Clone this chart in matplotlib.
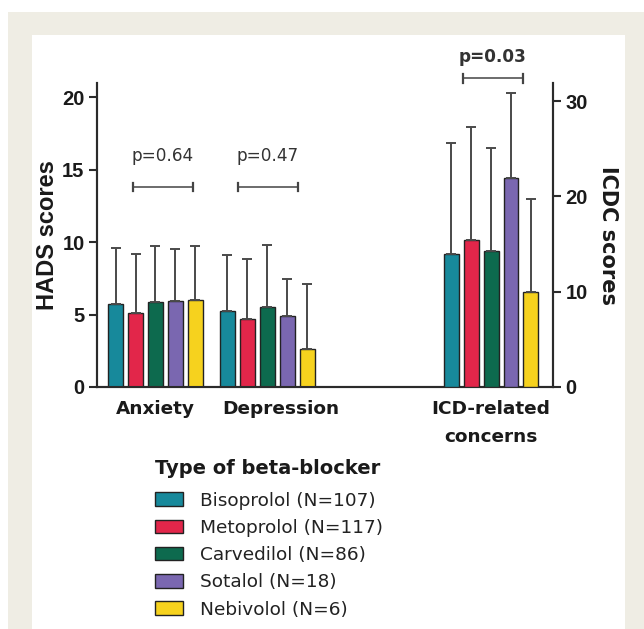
import matplotlib
matplotlib.use("Agg")
import matplotlib.pyplot as plt
from matplotlib.patches import Rectangle
from matplotlib import font_manager
import numpy as np

# ---- data ----
categories = ["Anxiety", "Depression", "ICD-related\nconcerns"]
drugs = ["Bisoprolol (N=107)", "Metoprolol (N=117)", "Carvedilol (N=86)",
         "Sotalol (N=18)", "Nebivolol (N=6)"]
colors = ["#17899b", "#e2264a", "#0d6a4e", "#7a67b0", "#f6d21e"]

anxiety_mean = [5.7, 5.1, 5.85, 5.9, 6.0]
anxiety_top = [9.6, 9.15, 9.7, 9.55, 9.75]
depression_mean = [5.25, 4.7, 5.55, 4.9, 2.65]
depression_top = [9.1, 8.85, 9.8, 7.45, 7.1]
icdc_mean = [14.0, 15.4, 14.3, 21.9, 10.0]
icdc_top = [25.6, 27.3, 25.1, 30.8, 19.7]

p_labels = ["p=0.64", "p=0.47", "p=0.03"]

W, H = 644, 629
fig = plt.figure(figsize=(W / 100, H / 100), dpi=100)
fig.patch.set_facecolor("white")
beige = "#efede4"
fig.patches.append(Rectangle((8 / W, 0), 1 - 8 / W, 1 - 12 / H, transform=fig.transFigure,
                             facecolor=beige, edgecolor="none", zorder=-10))
fig.patches.append(Rectangle((32 / W, 0), (625 - 32) / W, 1 - 35 / H, transform=fig.transFigure,
                             facecolor="white", edgecolor="none", zorder=-9))

ax_l, ax_r, ax_b, ax_t = 97, 553, 387, 83
ax = fig.add_axes([ax_l / W, 1 - ax_b / H, (ax_r - ax_l) / W, (ax_b - ax_t) / H])
ax.patch.set_alpha(0)
ax2 = ax.twinx()

group_x = [0.0, 1.0, 3.0]
step = 20 / 112
width = 15 / 112
offsets = (np.arange(5) - 2) * step

ax.set_xlim(-0.523, 3.554)
ax.set_ylim(0, 20.97)
ax2.set_ylim(0, 31.9)

spine_col = "#2b2b2b"
errkw = dict(ecolor="#4a4a4a", elinewidth=1.4, capsize=3.5, capthick=1.4)

def draw(axis, gx, means, tops, label=True):
    for i in range(5):
        err = [[0], [tops[i] - means[i]]]
        axis.bar(gx + offsets[i], means[i], width=width, color=colors[i],
                 edgecolor="#222222", linewidth=1.0, yerr=err, error_kw=errkw,
                 label=drugs[i] if label else None, zorder=3)

draw(ax, group_x[0], anxiety_mean, anxiety_top)
draw(ax, group_x[1], depression_mean, depression_top, label=False)
draw(ax2, group_x[2], icdc_mean, icdc_top, label=False)

for a in (ax, ax2):
    a.spines["top"].set_visible(False)
    for s in ("left", "right", "bottom"):
        a.spines[s].set_linewidth(1.5)
        a.spines[s].set_color(spine_col)
    a.set_xticks([])
    a.tick_params(axis="y", length=6, width=1.5, color=spine_col, pad=3)

installed = {f.name for f in font_manager.fontManager.ttflist}
tick_family = "Liberation Sans Narrow" if "Liberation Sans Narrow" in installed else "Liberation Sans"
tick_size = 16 if tick_family == "Liberation Sans Narrow" else 14.5

ax.set_yticks([0, 5, 10, 15, 20])
ax2.set_yticks([0, 10, 20, 30])
for lab in ax.get_yticklabels() + ax2.get_yticklabels():
    lab.set_fontfamily(tick_family)
    lab.set_fontweight("bold")
    lab.set_fontsize(tick_size)
    lab.set_color("#1a1a1a")

ax.set_ylabel("HADS scores", fontfamily="Liberation Sans", fontweight="bold",
              fontsize=17, color="#1a1a1a")
ax.yaxis.set_label_coords(-0.084, 0.5)
ax2.set_ylabel("ICDC scores", fontfamily="DejaVu Sans", fontweight="bold",
               fontsize=15, labelpad=7.5, rotation=270, va="bottom", color="#1a1a1a")

# category labels
label_dx = [0.0, 0.12, 0.0]
for gx, dx, cat in zip(group_x, label_dx, categories):
    ax.text(gx + dx, -0.9, cat, ha="center", va="top", fontsize=13.3,
            fontweight="bold", family="DejaVu Sans", linespacing=1.7,
            clip_on=False, color="#1a1a1a")

# significance brackets
br = [(-0.20, 0.335), (-0.263, 0.272), (-0.25, 0.286)]
br_y = [13.8, 13.8, 21.3]
txt_y = [15.9, 15.9, 22.75]
tick_h = 0.3
for k, (gx, (a0, a1)) in enumerate(zip(group_x, br)):
    x0, x1 = gx + a0, gx + a1
    y = br_y[k]
    ax.plot([x0, x1], [y, y], color="#444444", lw=1.1, clip_on=False)
    ax.plot([x0, x0], [y - tick_h, y + tick_h], color="#444444", lw=1.6, clip_on=False)
    ax.plot([x1, x1], [y - tick_h, y + tick_h], color="#444444", lw=1.6, clip_on=False)
    ax.text((x0 + x1) / 2, txt_y[k], p_labels[k], ha="center", va="center",
            fontsize=12.2, family="DejaVu Sans",
            fontweight="bold" if k == 2 else "normal", color="#333333",
            clip_on=False)

handles, labels = ax.get_legend_handles_labels()
leg = fig.legend(handles, labels, loc="upper left",
                 bbox_to_anchor=(146 / W, 1 - 450 / H), frameon=False,
                 title="Type of beta-blocker", alignment="left",
                 prop=dict(family="DejaVu Sans", size=13.3),
                 handlelength=1.5, handleheight=0.76, handletextpad=0.9,
                 labelspacing=0.5, borderpad=0.0)
leg.get_title().set_fontweight("bold")
leg.get_title().set_fontsize(14)
leg.get_title().set_color("#1a1a1a")
leg._legend_box.sep = leg._legend_box.sep + 3
for t in leg.get_texts():
    t.set_color("#222222")

fig.savefig("out.png", dpi=100)
